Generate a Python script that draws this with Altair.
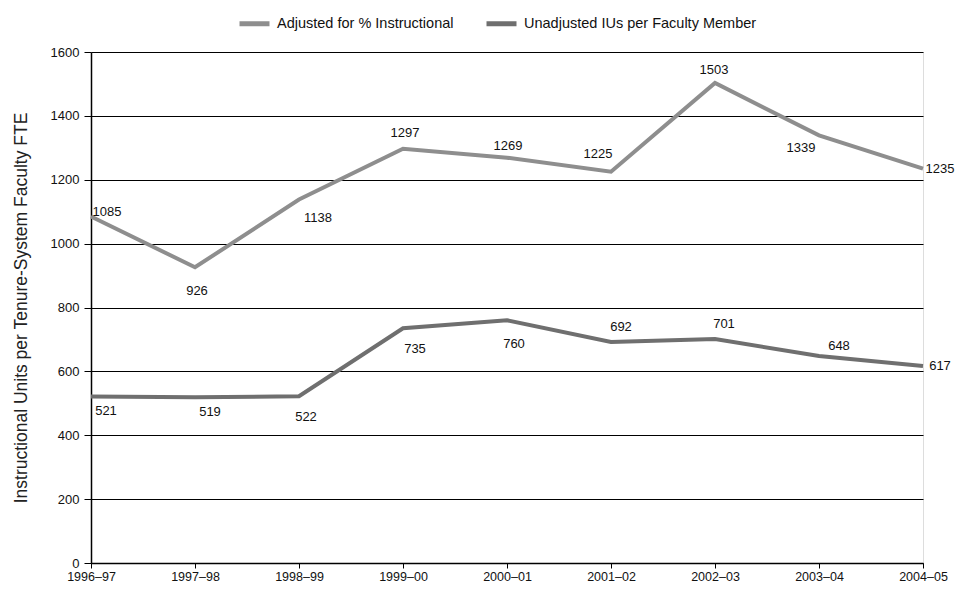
import altair as alt
import pandas as pd

years = ["1996–97", "1997–98", "1998–99", "1999–00", "2000–01",
         "2001–02", "2002–03", "2003–04", "2004–05"]
series_names = ["Adjusted for % Instructional", "Unadjusted IUs per Faculty Member"]
adjusted = [1085, 926, 1138, 1297, 1269, 1225, 1503, 1339, 1235]
unadjusted = [521, 519, 522, 735, 760, 692, 701, 648, 617]

# label offsets (pixels) for the value labels, style only
adj_dx = [16, 2, 19, 2, 1, -13, -1, -18, 17]
adj_dy = [-4, 24, 18, -16, -12, -18, -13, 13, 0]
una_dx = [15, 15, 7, 12, 7, 10, 9, 20, 17]
una_dy = [14, 15, 21, 21, 24, -15, -15, -10, 0]

PLOT_W, PLOT_H = 832, 511
Y_MAX = 1600

rows = []
for i, yr in enumerate(years):
    rows.append({"year": yr, "series": series_names[0], "value": adjusted[i],
                 "dx": adj_dx[i], "dy": adj_dy[i]})
    rows.append({"year": yr, "series": series_names[1], "value": unadjusted[i],
                 "dx": una_dx[i], "dy": una_dy[i]})
df = pd.DataFrame(rows)

FONT = "Liberation Sans, Arial, sans-serif"

x_enc = alt.X("year:N", sort=years,
              scale=alt.Scale(type="point", padding=0),
              axis=alt.Axis(title=None, labelAngle=0, labelFont=FONT, labelFontSize=12.5,
                            labelColor="#111", labelPadding=2, tickColor="black",
                            tickSize=5, domainColor="black", domainWidth=1.5, grid=False))
y_enc = alt.Y("value:Q", scale=alt.Scale(domain=[0, Y_MAX], nice=False),
              axis=alt.Axis(title="Instructional Units per Tenure-System Faculty FTE",
                            values=list(range(0, 1601, 200)), format="d", labelFont=FONT,
                            labelFontSize=13, labelColor="#111", labelPadding=5,
                            tickColor="black", tickSize=7, domainColor="black",
                            domainWidth=1.5, gridColor="black", gridWidth=1.2,
                            gridOpacity=1, titleFont=FONT, titleFontSize=17.5,
                            titleFontWeight="normal", titleColor="#222", titlePadding=20))

color = alt.Color("series:N", sort=series_names,
                  scale=alt.Scale(domain=series_names, range=["#8e8e8e", "#6f6f6f"]),
                  legend=alt.Legend(title=None, orient="none", direction="horizontal",
                                    legendX=146, legendY=-46, symbolType="stroke",
                                    symbolStrokeWidth=5, symbolSize=900,
                                    labelFont=FONT, labelFontSize=14.5, labelColor="#111",
                                    labelLimit=0, columnPadding=22, labelOffset=5))

lines = alt.Chart(df).mark_line(strokeWidth=4).encode(x=x_enc, y=y_enc, color=color)

labels = alt.Chart(df).transform_calculate(
    ly=f"datum.value - datum.dy * {Y_MAX} / {PLOT_H}"
).mark_text(font=FONT, fontSize=13, color="#111").encode(
    x=alt.X("year:N", sort=years),
    y=alt.Y("ly:Q"),
    xOffset=alt.XOffset("dx:Q", scale=None),
    text=alt.Text("value:Q"),
)

chart = alt.layer(lines, labels).properties(
    width=PLOT_W, height=PLOT_H,
    autosize=alt.AutoSizeParams(type="none"),
    padding={"left": 83, "top": 44, "right": 32, "bottom": 22},
).configure_view(stroke="black", strokeWidth=1.5).configure(background="white")

chart.save("out.html", embed_options={"renderer": "svg", "actions": False})
